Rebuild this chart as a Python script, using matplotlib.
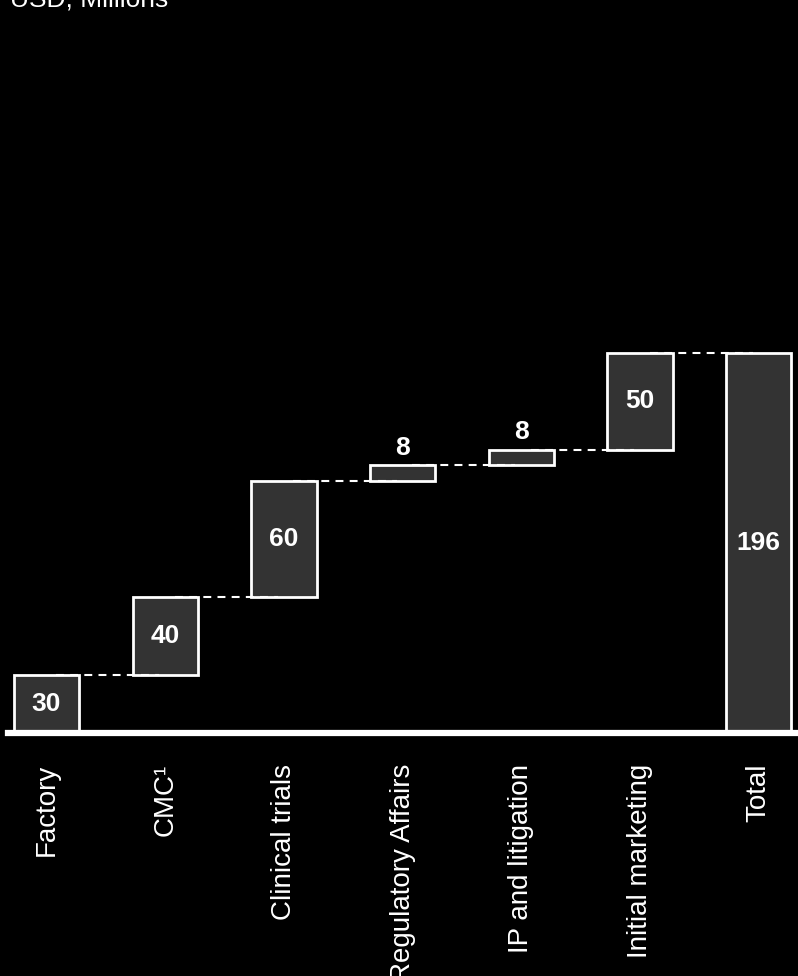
import matplotlib
matplotlib.use("Agg")
import matplotlib.pyplot as plt

plt.rcParams['font.family'] = ['Liberation Sans', 'DejaVu Sans']

categories = ["Factory", "CMC¹", "Clinical trials", "Regulatory Affairs",
              "IP and litigation", "Initial marketing", "Total"]
increments = [30, 40, 60, 8, 8, 50]
total = 196
unit_label = "USD, Millions"

values = increments + [total]
bottoms = []
running = 0
for v in increments:
    bottoms.append(running)
    running += v
bottoms.append(0)
tops = [b + v for b, v in zip(bottoms, values)]

fig = plt.figure(figsize=(7.98, 9.76), dpi=100, facecolor='black')
ax = fig.add_axes([8 / 798, 243 / 976, 790 / 798, 713 / 976])
ax.set_facecolor('black')

x = list(range(len(categories)))
bar_w = 0.55
ax.bar(x, values, bottom=bottoms, width=bar_w, color='#333333',
       edgecolor='white', linewidth=2, zorder=2)

# dashed connectors between consecutive bar tops
for i in range(len(categories) - 1):
    level = tops[i]
    ax.plot([x[i] + 0.08, x[i + 1] - 0.05], [level, level], color='white',
            linewidth=1.5, linestyle=(0, (3.8, 3)), zorder=3)

# value labels
for xi, b, v, t in zip(x, bottoms, values, tops):
    if v < 15:
        ax.annotate(str(v), (xi, t), xytext=(0, 4), textcoords='offset points',
                    ha='center', va='bottom', color='white', fontsize=19,
                    fontweight='bold', zorder=4)
    else:
        ax.text(xi, b + v / 2, str(v), ha='center', va='center', color='white',
                fontsize=19, fontweight='bold', zorder=4)

ax.set_xlim(-0.324, 6.33)
ax.set_ylim(0, 367.6)
ax.axhline(0, color='white', linewidth=4.5, zorder=5, clip_on=False)

for s in ax.spines.values():
    s.set_visible(False)
ax.set_yticks([])
ax.set_xticks(x)
ax.set_xticklabels(categories, rotation=90, color='white', fontsize=20,
                   va='top', ha='center')
ax.tick_params(axis='x', length=0, pad=22)

fig.text(10 / 798, 1 - 6 / 976, unit_label, color='white', fontsize=19,
         ha='left', va='baseline')

fig.savefig('out.png', dpi=100, facecolor='black')
